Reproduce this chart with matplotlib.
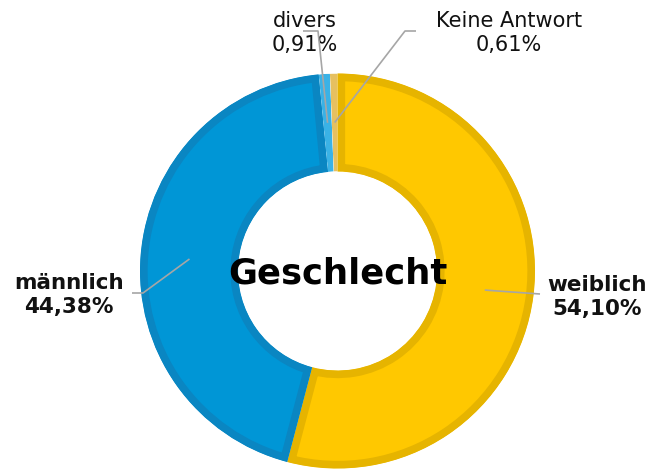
import numpy as np
import matplotlib
matplotlib.use("Agg")
import matplotlib.pyplot as plt

# Daten
kategorien = ["weiblich", "männlich", "divers", "Keine Antwort"]
anteile = [54.10, 44.38, 0.91, 0.61]
farben = ["#FFC800", "#0096D6", "#3AB2E6", "#E6C060"]
randfarben = ["#E6B400", "#0A86C2", "#3AB2E6", "#E6C060"]
randbreite = [11, 11, 0, 0]
fett = [True, True, False, False]
titel = "Geschlecht"

W, H = 654, 472
fig = plt.figure(figsize=(W / 100, H / 100), dpi=100)
ax = fig.add_axes([0, 0, 1, 1])

cx, cy = 337.5, H - 271
r_aussen = 197.5
breite = 98

wedges, _ = ax.pie(anteile, colors=farben, startangle=90, counterclock=False,
                   center=(cx, cy), radius=r_aussen,
                   wedgeprops=dict(width=breite, linewidth=0))

ax.set_xlim(0, W)
ax.set_ylim(0, H)
ax.set_aspect("equal")
ax.axis("off")

# dunklerer Rand innen an jedem Segment (Linie auf das Segment selbst beschnitten)
for w, rc, lw in zip(wedges, randfarben, randbreite):
    w.set_edgecolor(rc)
    w.set_linewidth(lw)
    w.set_clip_on(True)
    w.set_clip_path(w)

# Beschriftungen: Textposition, Knick der Linie, Ende der Linie (Pixel, y von oben)
text_pos = [(597, 297), (69, 295), (305, 33), (509, 33)]
knick = [(540, 294), (143, 293), (318, 31), (405, 31)]
linien_ende = [(540, 294), (132, 293), (303, 31), (416, 31)]

grenzen = np.cumsum([0] + anteile) / 100 * 360
for i, (kat, wert) in enumerate(zip(kategorien, anteile)):
    mitte = 90 - (grenzen[i] + grenzen[i + 1]) / 2
    r = r_aussen - breite / 2
    x0 = cx + r * np.cos(np.radians(mitte))
    y0 = cy + r * np.sin(np.radians(mitte))
    kx, ky = knick[i]
    ex, ey = linien_ende[i]
    ax.plot([x0, kx, ex], [y0, H - ky, H - ey], color="#A6A6A6", lw=1.2,
            solid_capstyle="butt", zorder=5)
    tx, ty = text_pos[i]
    label = f"{kat}\n{wert:.2f}".replace(".", ",") + "%"
    ax.text(tx, H - ty, label, ha="center", va="center",
            fontsize=15.5 if fett[i] else 15,
            fontweight="bold" if fett[i] else "normal",
            color="#111111", linespacing=1.2)

ax.text(cx, cy - 2, titel, ha="center", va="center", fontsize=25.5,
        fontweight="bold", color="black")

fig.savefig("out.png", dpi=100)
